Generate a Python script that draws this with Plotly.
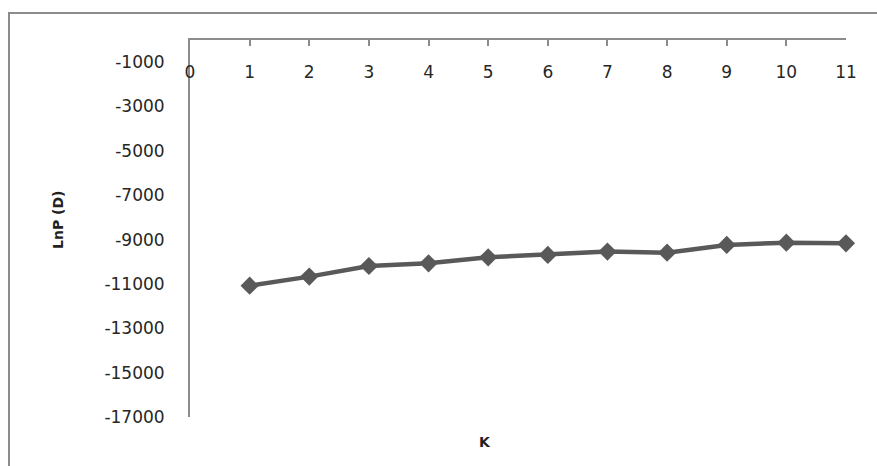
import plotly.graph_objects as go

K = [1, 2, 3, 4, 5, 6, 7, 8, 9, 10, 11]
lnpd = [-11080, -10670, -10190, -10070, -9800, -9690, -9540, -9590, -9240, -9140, -9170]
x_ticks = list(range(0, 12))
y_ticks = [-1000, -3000, -5000, -7000, -9000, -11000, -13000, -15000, -17000]

W, H = 877, 466
L, R, T, B = 190, 846, 40, 417

fig = go.Figure()
fig.add_trace(go.Scatter(
    x=K, y=lnpd, mode="lines+markers",
    line=dict(color="#595959", width=4.5),
    marker=dict(symbol="diamond", size=14, color="#595959"),
    showlegend=False, cliponaxis=False,
))

font = dict(family="DejaVu Sans", size=17, color="#262626")

fig.update_layout(
    width=W, height=H,
    margin=dict(l=L, r=W - R, t=T, b=H - B, pad=0),
    paper_bgcolor="white", plot_bgcolor="white",
    xaxis=dict(
        range=[0, 11], tickvals=x_ticks, ticktext=[str(v) for v in x_ticks],
        side="top", ticks="inside", ticklen=6, tickcolor="#8c8c8c", tickwidth=1.5,
        ticklabelposition="inside", ticklabelstandoff=21, ticklabeloverflow="allow",
        showline=True, linecolor="#8c8c8c", linewidth=2, automargin=False,
        showgrid=False, zeroline=False, tickfont=font,
    ),
    yaxis=dict(
        range=[-17000, 0], tickvals=y_ticks, ticktext=[str(v) for v in y_ticks],
        ticks="", showline=True, linecolor="#8c8c8c", linewidth=2,
        ticklabelstandoff=20, automargin=False, ticklabeloverflow="allow",
        showgrid=False, zeroline=False, tickfont=font,
    ),
    shapes=[dict(
        type="rect", xref="paper", yref="paper",
        x0=(9 - L) / (R - L), x1=(880 - L) / (R - L),
        y0=(B - 470) / (B - T), y1=(B - 13) / (B - T),
        line=dict(color="#8c8c8c", width=2), fillcolor="rgba(0,0,0,0)", layer="below",
    )],
    annotations=[
        dict(text="<b>LnP (D)</b>", xref="paper", yref="paper",
             x=(58 - L) / (R - L), y=(B - 220) / (B - T), showarrow=False,
             textangle=-90, font=dict(family="DejaVu Sans", size=14, color="#222222"),
             xanchor="center", yanchor="middle"),
        dict(text="<b>K</b>", xref="paper", yref="paper",
             x=(485 - L) / (R - L), y=(B - 442) / (B - T), showarrow=False,
             font=dict(family="DejaVu Sans", size=14, color="#222222"),
             xanchor="center", yanchor="middle"),
    ],
)

fig.write_html("out.html", config={"displayModeBar": False},
               post_script="document.body.style.margin='0';")
